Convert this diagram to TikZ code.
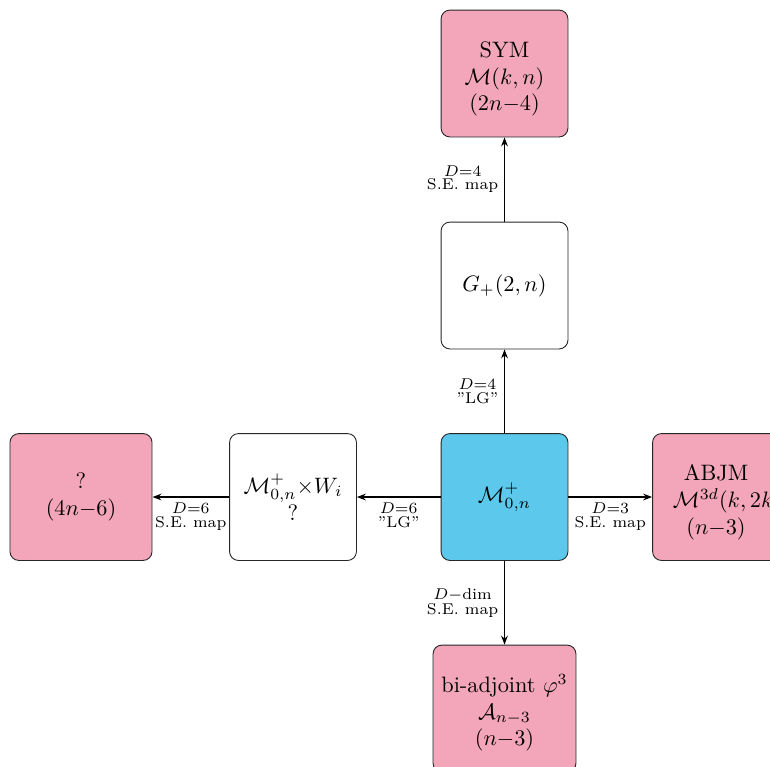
\documentclass[tikz,border=0pt]{standalone}
\usepackage{amsmath}
\usetikzlibrary{arrows.meta}
\definecolor{boxpink}{RGB}{243,166,185}
\definecolor{boxblue}{RGB}{91,200,236}
\tikzset{
  box/.style={draw=black!85, rounded corners=4pt, minimum width=56.9pt, minimum height=56.9pt, align=center, inner sep=3pt},
  pinkbox/.style={box, fill=boxpink},
  bluebox/.style={box, fill=boxblue},
  whitebox/.style={box, fill=white},
  conn/.style={-{Stealth[length=4pt,width=3pt]}, semithick},
  lab/.style={inner sep=2.5pt, font=\normalsize}
}
\begin{document}
\begin{tikzpicture}[x=0.4484pt, y=-0.4484pt]
\useasboundingbox (0,0) rectangle (770,766);
\clip (0,0) rectangle (770,766);
\node[bluebox] (c) at (504.5,497) {$\mathcal{M}^+_{0,n}$};
\node[whitebox] (g) at (504.5,285.5) {$G_+(2,n)$};
\node[pinkbox] (sym) at (504.5,73.5) {\rule{0pt}{12pt}SYM\\ $\mathcal{M}(k,n)$\\ $(2n{-}4)$};
\node[whitebox] (lw) at (293,497) {$\mathcal{M}^+_{0,n}{\times}W_i$\\ ?};
\node[pinkbox, minimum width=63.7pt] (fl) at (81,497) {?\\ $(4n{-}6)$};
\node[pinkbox, text width=50.6pt] (abjm) at (716,497) {\rule{0pt}{12pt}ABJM\\ \hspace*{6pt}$\mathcal{M}^{3d}(k,2k)$\\ $(n{-}3)$};
\node[pinkbox, minimum width=64.1pt] (bot) at (504.5,708.5) {\rule{0pt}{12pt}bi-adjoint $\varphi^3$\\ $\mathcal{A}_{n-3}$\\ $(n{-}3)$};
\draw[conn] (c) -- node[lab, left] {$\substack{D=4\\ \text{''LG''}}$} (g);
\draw[conn] (g) -- node[lab, left] {$\substack{D=4\\ \text{S.E. map}}$} (sym);
\draw[conn] (c) -- node[lab, below] {$\substack{D=6\\ \text{''LG''}}$} (lw);
\draw[conn] (lw) -- node[lab, below] {$\substack{D=6\\ \text{S.E. map}}$} (fl);
\draw[conn] (c) -- node[lab, below] {$\substack{D=3\\ \text{S.E. map}}$} (abjm);
\draw[conn] (c) -- node[lab, left] {$\substack{D-\text{dim}\\ \text{S.E. map}}$} (bot);
\end{tikzpicture}
\end{document}
